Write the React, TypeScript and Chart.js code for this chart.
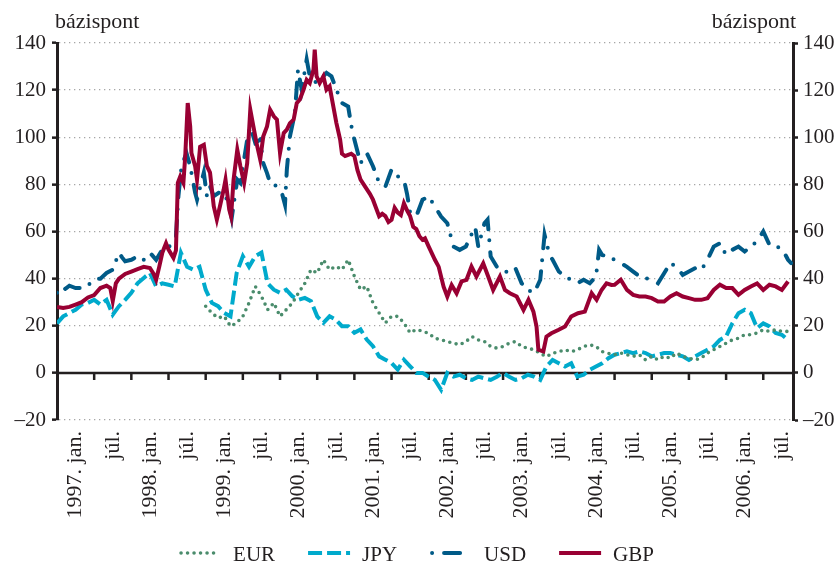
import { useEffect, useRef } from "react";
import { Chart, registerables } from "chart.js";

Chart.register(...registerables);

// x values are months counted from 1997 January (0 = 1997. jan.)
const X_LABELS = [
  "1997. jan.", "júl.", "1998. jan.", "júl.", "1999. jan.", "júl.",
  "2000. jan.", "júl.", "2001. jan.", "júl.", "2002. jan.", "júl.",
  "2003. jan.", "júl.", "2004. jan.", "júl.", "2005. jan.", "júl.",
  "2006. jan.", "júl.",
];

// [month, basis points]
const GBP: [number, number][] = [
  [0, 28], [1, 27.5], [2, 28], [3, 29], [4, 30], [5, 32], [6, 33], [7, 36], [8, 37], [8.6, 36],
  [9, 30.5], [9.5, 38], [10, 40], [11, 42], [12, 43], [13, 44], [14, 45], [15, 44.5], [15.6, 42], [16, 39.5],
  [16.5, 45], [17, 51], [17.6, 55], [18, 52.3], [18.8, 48.8], [19.2, 52], [19.5, 80.6], [19.9, 83.4], [20.4, 80.6], [20.7, 92],
  [21.1, 114.5], [21.5, 104.6], [21.7, 93.3], [22.3, 87.7], [22.6, 82], [23.1, 96], [23.7, 96.8], [24.2, 87.7], [24.7, 85], [25.3, 70.7],
  [25.8, 65], [26.3, 70.7], [26.9, 77.8], [27.2, 82], [27.8, 69.3], [28.1, 66.4], [28.5, 82], [29.1, 94.7], [29.6, 87.7], [30.2, 80.6],
  [30.7, 89], [31.2, 111.7], [31.7, 104.6], [32.2, 97.6], [32.8, 90.5], [33.3, 100.4], [33.9, 104.6], [34.4, 111.7], [35, 108.9], [35.5, 107.5],
  [36, 93.3], [36.6, 101.8], [37.1, 103.2], [37.6, 106], [38.2, 107.5], [38.7, 114.5], [39.2, 116], [39.8, 120.2], [40.3, 124.4], [40.8, 123],
  [41.4, 128.7], [41.6, 137.2], [41.9, 125.9], [42.4, 123], [43, 125.9], [43.5, 120.2], [44, 121.6], [44.6, 113.1], [45.1, 106], [45.7, 99],
  [46, 93], [46.5, 92], [47, 92.5], [47.5, 93], [48, 92], [48.5, 86], [49, 82], [49.5, 80], [50, 78], [50.5, 76],
  [51, 73.5], [51.5, 70], [52, 66.5], [52.5, 67.5], [53, 66.5], [53.5, 64], [54, 65], [54.5, 70], [55, 68], [55.5, 67],
  [56, 72], [56.5, 69], [57, 66.5], [57.5, 62], [58, 61], [58.5, 58], [59, 56.5], [59.4, 57.1], [60, 53.6], [61, 48],
  [61.6, 45.1], [62.4, 36.6], [63, 32.4], [63.7, 37.3], [64.5, 33.8], [65.3, 38.8], [66.1, 39.5], [66.9, 45.1], [67.7, 40.9], [68.8, 46.5],
  [69.6, 40.9], [70.4, 35.2], [71.5, 40.9], [72.3, 35.2], [73.1, 33.8], [74.2, 32.4], [75.3, 26.7], [76.1, 31], [76.9, 26], [77.4, 19.7],
  [77.7, 9.8], [78.5, 9.1], [79, 15.4], [79.8, 16.8], [80.9, 18.2], [82, 19.7], [83, 23.9], [84.1, 25.3], [85.2, 26], [86.3, 33.8],
  [87.1, 31], [87.9, 35.2], [88.7, 38], [89.5, 37.3], [90, 37.4], [91, 39.5], [92, 35.2], [93, 33.1], [94, 32.4], [95, 32.4],
  [96, 31.7], [97, 30.3], [98, 30.3], [99, 32.4], [100, 33.8], [101, 32.4], [102, 31.7], [103, 31], [104, 31], [105, 31.7],
  [106, 35.2], [107, 37.4], [108, 36], [109, 36], [110, 33.1], [111, 35.2], [112, 36.7], [113, 38], [114, 35.2], [115, 37.4],
  [116, 36.7], [117, 35.2], [118, 38.8],
];

const USD: [number, number][] = [
  [0, 34], [0.5, 33], [1, 35], [1.5, 36], [2, 37], [3, 36], [4, 36], [5, 37], [6, 40], [7, 40],
  [8, 42.4], [9, 43.8], [10, 51], [10.5, 49], [11, 47.4], [12, 48], [13, 49.5], [14, 48], [15, 51], [16, 48],
  [17, 52.3], [18, 53], [18.8, 56.5], [19.2, 58], [19.6, 75], [20.1, 87.7], [20.9, 93.3], [21.5, 87.7], [22.3, 76.4], [22.6, 73.5],
  [23.7, 85], [24.2, 75], [24.7, 79.2], [25.3, 75], [26.1, 76.4], [26.9, 76.4], [27.7, 72.1], [28.2, 65.7], [29.1, 82], [29.6, 80.6],
  [30.7, 99], [31.2, 104.6], [32, 97.6], [32.8, 99], [33.3, 89], [33.9, 84.8], [34.4, 80.6], [35.5, 79.2], [36.3, 76.4], [36.8, 71.4],
  [37.1, 86.3], [37.6, 100.4], [38.4, 110.3], [38.9, 128.7], [39.5, 120.2], [40.3, 133], [40.8, 125.9], [41.9, 123], [43.5, 127.3], [44.3, 125.9],
  [45.1, 120.2], [46, 114.5], [47, 113], [47.5, 105], [48, 99], [49, 89], [50, 93.3], [51, 87.7], [52, 80.6], [53, 79],
  [54, 86.3], [55, 83.4], [56, 82], [56.5, 76], [57, 68], [58, 66.5], [59, 73.5], [60, 74.8], [61, 70.6], [62, 66.3],
  [63, 63.5], [64, 53.6], [65, 52.2], [66, 53.6], [67, 59.3], [67.5, 62], [68, 53.6], [69, 63.5], [69.5, 65], [70, 49.4],
  [71, 45], [72, 43.7], [73, 42.3], [74, 44.4], [75, 38], [76, 35.2], [77, 33.8], [78, 39.5], [78.7, 58.6], [79.5, 50],
  [80, 48], [81, 43], [82, 40.9], [83, 39.5], [84, 38], [85, 39.5], [86, 38], [87, 40.9], [87.5, 52.2], [88, 50],
  [89, 49.4], [90, 48], [91, 46.6], [92, 45], [93, 43], [94, 41], [95, 40.2], [96, 39.5], [97, 38], [98, 42.3],
  [99, 46.6], [100, 45], [101, 41.6], [102, 43], [103, 44.4], [104, 43.7], [105, 48], [106, 53.6], [107, 55], [108, 50],
  [109, 52.2], [110, 53.6], [111, 51.5], [112, 53.6], [113, 55.8], [114, 60], [115, 54.3], [116, 53.6], [117, 52.9], [118, 48],
  [118.5, 46.6],
];

// monthly, from 1997 January
const JPY = [
  21, 24, 25.4, 26.8, 29, 29.7, 31, 29, 31, 24.7,
  28.3, 31, 34, 38, 40.3, 42.4, 36.7, 38, 37.4, 36.7,
  51, 45, 43.8, 45, 35.3, 29.7, 28.3, 25.4, 24, 42.4,
  49.5, 45, 49.5, 51, 38, 35.3, 34, 35.3, 32.5, 31,
  31.8, 30.4, 24, 21.2, 24, 22.6, 19.8, 19.8, 17, 18.4,
  14.1, 11.3, 7, 5.6, 4.2, 1.4, 5.6, 2.8, 0, 0,
  -1.6, -3, -7.2, 0, -1.6, -0.8, -2.3, -3, -1.6, -2.3,
  -3, -1.6, 0, -1.6, -3, -2.3, -0.8, -1.6, -3, 2.7,
  5.5, 4.1, 2.7, 4.1, -1.6, -0.8, 1.3, 2.7, 4.1, 6.2,
  7.7, 8.4, 9.1, 8.4, 9.1, 8.4, 7, 7.7, 8.4, 8.4,
  7.7, 7, 5.5, 7, 8.4, 9.8, 11.2, 14, 15.4, 21,
  25.3, 26.8, 25.3, 19, 21, 19.7, 16.9, 16.2, 14,
];

// monthly, from 1999 January (month 24)
const EUR_START = 24;
const EUR = [
  28.3, 25.4, 23.3, 24, 19.8, 21.2,
  24, 29.7, 36.7, 32.5, 26.8, 29.7, 24, 26.8, 29.7, 34,
  38, 43.8, 42.4, 48, 43.8, 45.2, 43.8, 48, 41, 35.3,
  36.7, 29.7, 25.4, 21.2, 24, 24, 21.2, 17, 18.4, 17.7,
  16.8, 14.7, 14, 13.3, 12.6, 11.9, 13.3, 15.4, 14, 13.3,
  11.2, 10.5, 11.2, 12.6, 13.3, 11.2, 10.5, 9.8, 8.3, 6.9,
  8.3, 9, 9.8, 9, 9.8, 11.2, 11.9, 11.2, 9, 8.3,
  7.7, 8.4, 7.7, 7, 7.7, 5.5, 7, 5.5, 7, 6.3,
  8.4, 7, 6.3, 5.5, 6.3, 8.4, 9.8, 11.2, 12.6, 14,
  14.7, 16.2, 16.2, 16.9, 18.3, 17.6, 18.3, 17.6, 17.6,
];

const FONT = "'Liberation Serif', 'Times New Roman', serif";
const TEXT = "#231f20";

const overlayPlugin = {
  id: "overlay",
  beforeDatasetsDraw(chart: any) {
    const { ctx, chartArea, scales } = chart;
    const y0 = scales.y.getPixelForValue(0);
    ctx.save();
    ctx.strokeStyle = TEXT;
    ctx.lineWidth = 2.5;
    ctx.beginPath();
    ctx.moveTo(chartArea.left, y0);
    ctx.lineTo(chartArea.right, y0);
    for (let m = 6; m < scales.x.max; m += 6) {
      const x = scales.x.getPixelForValue(m);
      ctx.moveTo(x, y0);
      ctx.lineTo(x, y0 + 7);
    }
    ctx.stroke();
    ctx.restore();
  },
  afterDraw(chart: any) {
    const { ctx, chartArea } = chart;
    ctx.save();
    ctx.fillStyle = TEXT;
    ctx.font = `22px ${FONT}`;
    ctx.textBaseline = "alphabetic";
    ctx.textAlign = "left";
    ctx.fillText("bázispont", chartArea.left - 2, 28);
    ctx.textAlign = "right";
    ctx.fillText("bázispont", chartArea.right + 3, 28);

    // legend
    const sets = chart.data.datasets;
    ctx.font = `21px ${FONT}`;
    const lineW = 42;
    const gap = 12;
    const spacing = 33;
    const widths = sets.map((d: any) => lineW + gap + ctx.measureText(d.label).width);
    const total = widths.reduce((a: number, b: number) => a + b, 0) + spacing * (sets.length - 1);
    let x = chart.width / 2 - 2 - total / 2;
    const yLine = 553;
    sets.forEach((d: any, i: number) => {
      ctx.save();
      ctx.strokeStyle = d.borderColor;
      ctx.lineWidth = d.borderWidth;
      ctx.lineCap = d.borderCapStyle || "butt";
      ctx.setLineDash(d.borderDash || []);
      ctx.beginPath();
      const capPad = ctx.lineCap === "round" ? 2 : 0;
      ctx.moveTo(x + capPad, yLine);
      ctx.lineTo(x + lineW - capPad, yLine);
      ctx.stroke();
      ctx.restore();
      ctx.fillStyle = TEXT;
      ctx.textAlign = "left";
      ctx.fillText(d.label, x + lineW + gap, 561);
      x += widths[i] + spacing;
    });
    ctx.restore();
  },
};

export default function App() {
  const ref = useRef<HTMLCanvasElement | null>(null);

  useEffect(() => {
    if (!ref.current) return;
    const toPts = (pairs: [number, number][]) => pairs.map(([m, v]) => ({ x: m, y: v }));
    const eurPts = EUR.map((v, i) => ({ x: EUR_START + i, y: v }));
    const jpyPts = JPY.map((v, i) => ({ x: i, y: v }));
    const tickFont = { family: FONT, size: 21 };
    const chart = new Chart(ref.current, {
      type: "line",
      data: {
        datasets: [
          {
            label: "EUR",
            data: eurPts,
            borderColor: "#4a8c6c",
            backgroundColor: "#4a8c6c",
            borderWidth: 3.6,
            borderDash: [0, 6.5],
            borderCapStyle: "round",
            pointRadius: 0,
            order: 2,
          },
          {
            label: "JPY",
            data: jpyPts,
            borderColor: "#00aacc",
            backgroundColor: "#00aacc",
            borderWidth: 4,
            borderDash: [14, 5],
            borderCapStyle: "butt",
            pointRadius: 0,
            order: 3,
          },
          {
            label: "USD",
            data: toPts(USD),
            borderColor: "#005a87",
            backgroundColor: "#005a87",
            borderWidth: 4,
            borderDash: [0, 12, 16, 11],
            borderCapStyle: "round",
            pointRadius: 0,
            order: 1,
          },
          {
            label: "GBP",
            data: toPts(GBP),
            borderColor: "#990033",
            backgroundColor: "#990033",
            borderWidth: 4,
            pointRadius: 0,
            order: 0,
          },
        ],
      } as any,
      options: {
        responsive: false,
        animation: false,
        devicePixelRatio: 1,
        parsing: false,
        layout: { padding: { top: 43, left: 0, right: 0, bottom: 28 } },
        plugins: {
          tooltip: { enabled: false },
          legend: { display: false },
        },
        scales: {
          x: {
            type: "linear",
            min: 0,
            max: 118.8,
            afterBuildTicks: (s: any) => {
              s.ticks = X_LABELS.map((_, i) => ({ value: i * 6 + 3 }));
            },
            afterFit: (s: any) => {
              s.height = 115;
            },
            ticks: {
              autoSkip: false,
              minRotation: 90,
              maxRotation: 90,
              padding: 11,
              color: TEXT,
              font: { family: FONT, size: 22 },
              callback: (_v: any, i: number) => X_LABELS[i],
            },
            grid: { display: false, drawTicks: false },
            border: { display: false },
          },
          y: {
            position: "left",
            min: -20,
            max: 140,
            afterFit: (s: any) => {
              s.width = 57;
            },
            ticks: {
              stepSize: 20,
              padding: 6,
              color: TEXT,
              font: tickFont,
              callback: (v: any) => (v < 0 ? "–" + Math.abs(v) : String(v)),
            },
            grid: {
              color: (c: any) => (c.tick && c.tick.value === 0 ? "rgba(0,0,0,0)" : "#a6a6a6"),
              lineWidth: 1.3,
              tickLength: 5,
              tickWidth: 2.5,
              tickColor: TEXT,
            },
            border: { display: true, color: TEXT, width: 3, dash: [1.3, 3.7] },
          },
          y2: {
            position: "right",
            min: -20,
            max: 140,
            afterFit: (s: any) => {
              s.width = 44;
            },
            ticks: {
              stepSize: 20,
              padding: 5,
              color: TEXT,
              font: tickFont,
              callback: (v: any) => (v < 0 ? "–" + Math.abs(v) : String(v)),
            },
            grid: {
              drawOnChartArea: false,
              tickLength: 5,
              tickWidth: 2.5,
              tickColor: TEXT,
            },
            border: { display: true, color: TEXT, width: 3 },
          },
        },
      } as any,
      plugins: [overlayPlugin],
    });
    return () => chart.destroy();
  }, []);

  return (
    <div style={{ position: "absolute", left: 0, top: 0, width: 837, height: 563, background: "#fff" }}>
      <canvas ref={ref} width={837} height={563} />
    </div>
  );
}
